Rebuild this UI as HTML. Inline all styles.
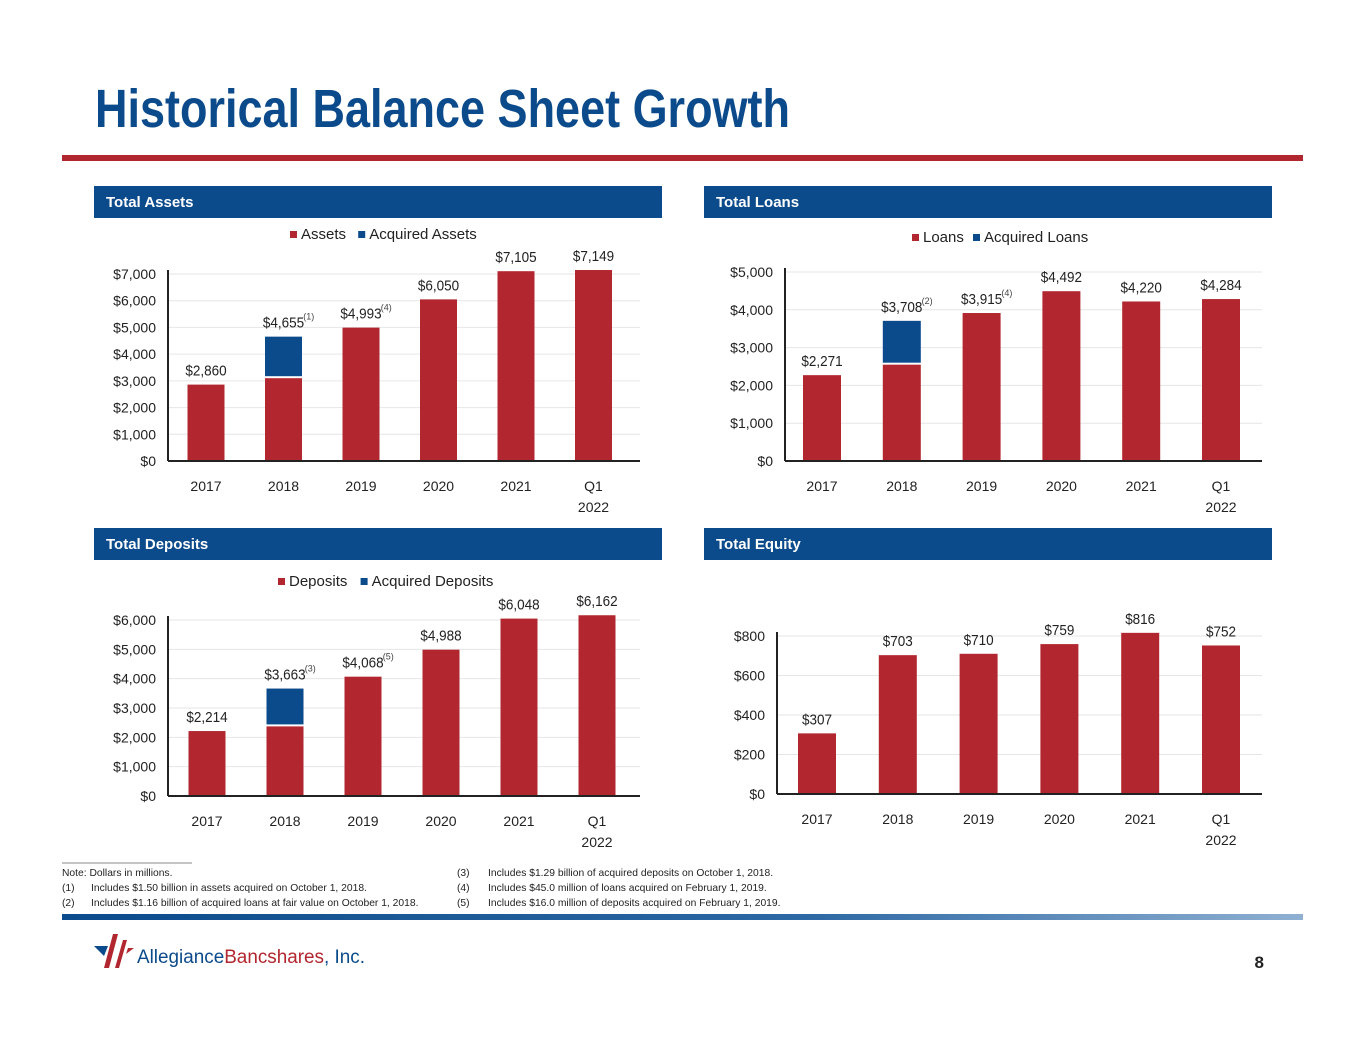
<!DOCTYPE html>
<html><head><meta charset="utf-8">
<style>
html,body{margin:0;padding:0;background:#fff}
svg{display:block}
text{font-family:"Liberation Sans Narrow","Liberation Sans",Arial,sans-serif}
</style></head>
<body>
<svg id="s" width="1365" height="1055" viewBox="0 0 1365 1055" xmlns="http://www.w3.org/2000/svg">
<defs>
<linearGradient id="bg" x1="0" x2="1" y1="0" y2="0">
<stop offset="0" stop-color="#0b4a8b"/><stop offset="0.6" stop-color="#2c68a3"/><stop offset="1" stop-color="#8fb0d2"/>
</linearGradient>
</defs>
<text x="95" y="127" font-size="54" font-weight="bold" fill="#0b4a8b" textLength="695" lengthAdjust="spacingAndGlyphs" style="font-family:'Liberation Sans',Arial,sans-serif">Historical Balance Sheet Growth</text>
<rect x="62" y="155" width="1241" height="6" fill="#b2272f"/>

<g font-size="10.3" fill="#222">
<line x1="62" y1="863" x2="192" y2="863" stroke="#888" stroke-width="1"/>
<text x="62" y="876">Note: Dollars in millions.</text>
<text x="62" y="891">(1)</text><text x="91" y="891">Includes $1.50 billion in assets acquired on October 1, 2018.</text>
<text x="62" y="906">(2)</text><text x="91" y="906">Includes $1.16 billion of acquired loans at fair value on October 1, 2018.</text>
<text x="457" y="876">(3)</text><text x="488" y="876">Includes $1.29 billion of acquired deposits on October 1, 2018.</text>
<text x="457" y="891">(4)</text><text x="488" y="891">Includes $45.0 million of loans acquired on February 1, 2019.</text>
<text x="457" y="906">(5)</text><text x="488" y="906">Includes $16.0 million of deposits acquired on February 1, 2019.</text>
</g>
<rect x="62" y="914" width="1241" height="6" fill="url(#bg)"/>
<g>
<polygon points="94,946 108,946 104,956" fill="#0b4a8b"/>
<polygon points="113,934 118,934 109,968 104,968" fill="#b2272f"/>
<polygon points="123,940 127,940 119,968 115,968" fill="#b2272f"/>
<polygon points="128,948 134,948 126,954" fill="#b2272f"/>
<text x="137" y="963" font-size="19" fill="#0b4a8b" style="font-family:'Liberation Sans',Arial,sans-serif" textLength="228" lengthAdjust="spacingAndGlyphs">Allegiance<tspan fill="#b2272f">Bancshares</tspan>, Inc.</text>
</g>
<text x="1264" y="968" font-size="17" font-weight="bold" fill="#222" text-anchor="end">8</text>
</svg>
<script>
const categories = ["2017","2018","2019","2020","2021","Q1|2022"];
const assetsValues = [2860, 3100, 4993, 6050, 7105, 7149];
const assetsAcquired = [0, 1555, 0, 0, 0, 0];
const assetsLabels = ["$2,860","$4,655","$4,993","$6,050","$7,105","$7,149"];
const assetsNotes = ["","(1)","(4)","","",""];
const assetsTicks = [0,1000,2000,3000,4000,5000,6000,7000];

const loansValues = [2271, 2548, 3915, 4492, 4220, 4284];
const loansAcquired = [0, 1160, 0, 0, 0, 0];
const loansLabels = ["$2,271","$3,708","$3,915","$4,492","$4,220","$4,284"];
const loansNotes = ["","(2)","(4)","","",""];
const loansTicks = [0,1000,2000,3000,4000,5000];

const depositsValues = [2214, 2373, 4068, 4988, 6048, 6162];
const depositsAcquired = [0, 1290, 0, 0, 0, 0];
const depositsLabels = ["$2,214","$3,663","$4,068","$4,988","$6,048","$6,162"];
const depositsNotes = ["","(3)","(5)","","",""];
const depositsTicks = [0,1000,2000,3000,4000,5000,6000];

const equityValues = [307, 703, 710, 759, 816, 752];
const equityLabels = ["$307","$703","$710","$759","$816","$752"];
const equityTicks = [0,200,400,600,800];

const NS="http://www.w3.org/2000/svg";
const svg=document.getElementById('s');
function mk(tag,attrs,parent,txt){const e=document.createElementNS(NS,tag);for(const k in attrs)e.setAttribute(k,attrs[k]);if(txt!==undefined)e.textContent=txt;(parent||svg).appendChild(e);return e;}
const RED="#b2272f", BLUE="#0b4a8b";

function panel(cfg){
  const g=mk('g',{});
  
  
  const hb=mk('rect',{x:cfg.hx,y:cfg.hy,width:568,height:32,fill:BLUE},g);
  
  
  mk('text',{x:cfg.hx+12,y:cfg.hy+21,'font-size':15,'font-weight':'bold',fill:'#fff'},g,cfg.title);
  if(cfg.legend){
    const lg=mk('g',{},g);
    
    
    mk('rect',{x:cfg.lx,y:cfg.ly-8,width:7,height:7,fill:RED},lg);
    mk('text',{x:cfg.lx+11,y:cfg.ly,'font-size':15,fill:'#222'},lg,cfg.legend[0]);
    const w1=cfg.legend[0].length*7.2+14;
    mk('rect',{x:cfg.lx+11+w1,y:cfg.ly-8,width:7,height:7,fill:BLUE},lg);
    mk('text',{x:cfg.lx+22+w1,y:cfg.ly,'font-size':15,fill:'#222'},lg,cfg.legend[1]);
  }
  const ymax=cfg.ticks[cfg.ticks.length-1];
  const y=v=>cfg.y0-(v/ymax)*(cfg.y0-cfg.ytop);
  const x=i=>cfg.x0+cfg.first+i*cfg.step;
  cfg.ticks.forEach(t=>{
    if(t>0){const gl=mk('line',{x1:cfg.x0,x2:cfg.x1,y1:y(t),y2:y(t),stroke:'#e6e6e6','stroke-width':1},g);
      }
    const tl=mk('text',{x:cfg.x0-12,y:y(t)+5,'font-size':14,fill:'#222','text-anchor':'end'},g,'$'+t.toLocaleString('en-US'));
    
  });
  const bw=cfg.bw;
  categories.forEach((c,i)=>{
    const v=cfg.values[i], a=cfg.acq?cfg.acq[i]:0;
    const b=mk('rect',{x:x(i)-bw/2,y:y(v),width:bw,height:cfg.y0-y(v),fill:RED},g);
    
    
    let top=y(v);
    if(a>0){
      const gap=2;
      const ab=mk('rect',{x:x(i)-bw/2,y:y(v+a),width:bw,height:y(v)-y(v+a)-gap,fill:BLUE},g);
      
      
      top=y(v+a);
    }
    const lab=mk('text',{x:x(i),y:top-9,'font-size':15,fill:'#222','text-anchor':'middle',class:'cond'},g,cfg.labels[i]);
    
    
    if(cfg.notes&&cfg.notes[i]){
      const n=mk('text',{x:x(i)+cfg.labels[i].length*3.3,y:top-17,'font-size':9,fill:'#444'},g,cfg.notes[i]);
      
    }
    const parts=c.split('|');
    parts.forEach((p,k)=>{
      const xl=mk('text',{x:x(i),y:cfg.y0+30+k*21,'font-size':14,fill:'#222','text-anchor':'middle'},g,p);
      
    });
  });
  mk('line',{x1:cfg.x0,x2:cfg.x0,y1:cfg.ytop-4,y2:cfg.y0,stroke:'#222','stroke-width':2},g);
  mk('line',{x1:cfg.x0,x2:cfg.x1,y1:cfg.y0,y2:cfg.y0,stroke:'#222','stroke-width':2},g);
}

panel({name:'total-assets-chart',title:'Total Assets',hx:94,hy:186,legend:['Assets','Acquired Assets'],lx:290,ly:239,
  x0:168,x1:640,y0:461,ytop:274,first:38,step:77.5,bw:37,ticks:assetsTicks,values:assetsValues,acq:assetsAcquired,labels:assetsLabels,notes:assetsNotes});
panel({name:'total-loans-chart',title:'Total Loans',hx:704,hy:186,legend:['Loans','Acquired Loans'],lx:912,ly:242,
  x0:785,x1:1262,y0:461,ytop:272,first:37,step:79.8,bw:38,ticks:loansTicks,values:loansValues,acq:loansAcquired,labels:loansLabels,notes:loansNotes});
panel({name:'total-deposits-chart',title:'Total Deposits',hx:94,hy:528,legend:['Deposits','Acquired Deposits'],lx:278,ly:586,
  x0:168,x1:640,y0:796,ytop:620,first:39,step:78,bw:37,ticks:depositsTicks,values:depositsValues,acq:depositsAcquired,labels:depositsLabels,notes:depositsNotes});
panel({name:'total-equity-chart',title:'Total Equity',hx:704,hy:528,legend:null,
  x0:777,x1:1262,y0:794,ytop:636,first:40,step:80.8,bw:38,ticks:equityTicks,values:equityValues,acq:null,labels:equityLabels,notes:null});

document.querySelectorAll('text.cond').forEach(t=>{
  const len=t.getComputedTextLength();
  if(len>0){t.setAttribute('textLength',(len*0.9).toFixed(1));t.setAttribute('lengthAdjust','spacingAndGlyphs');}
});
</script>
</body></html>
